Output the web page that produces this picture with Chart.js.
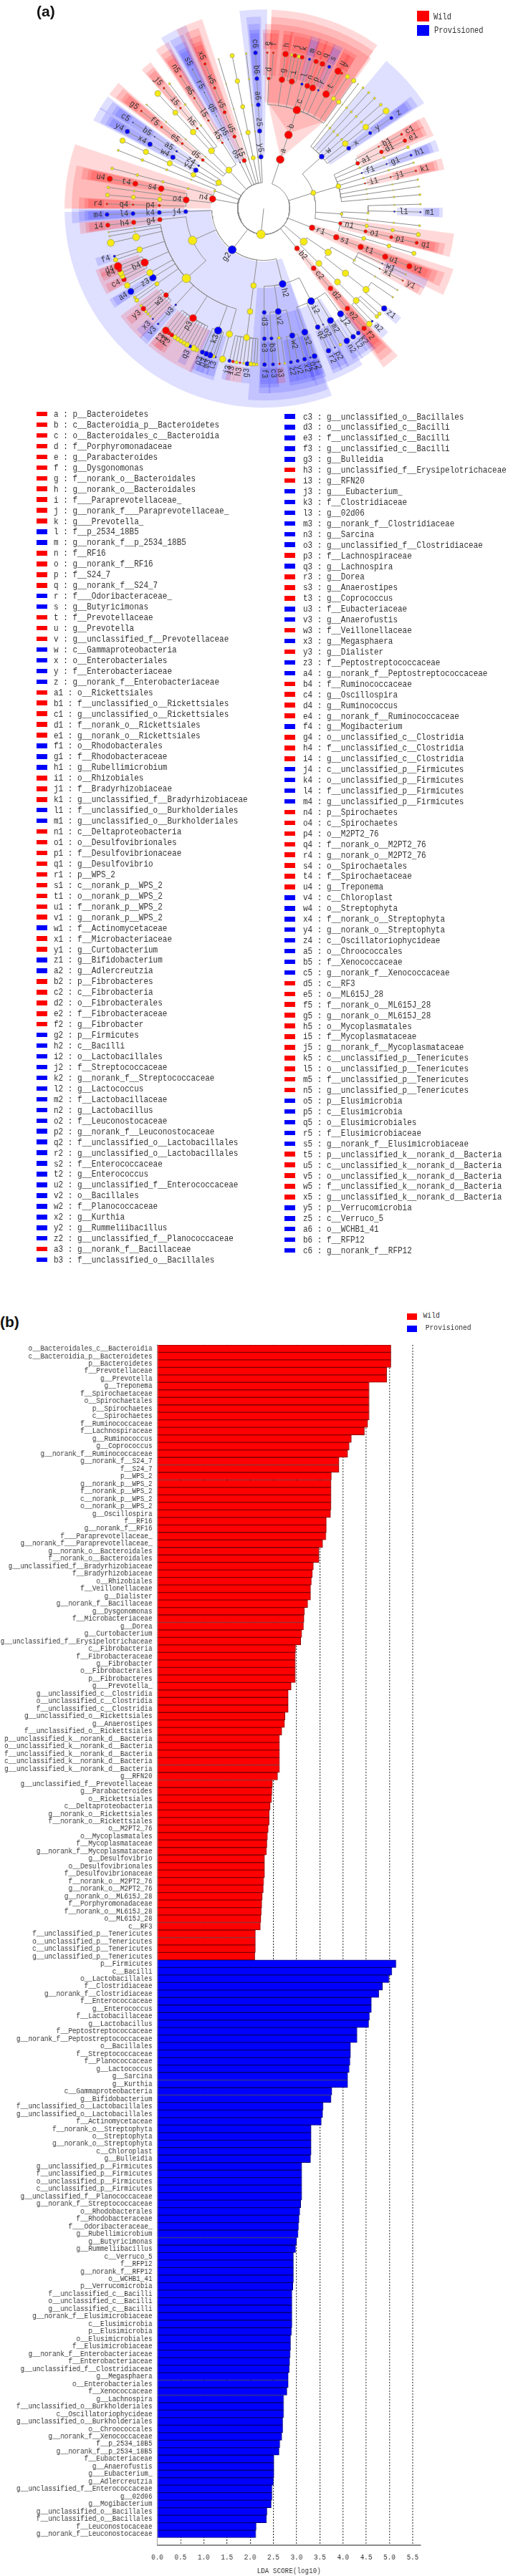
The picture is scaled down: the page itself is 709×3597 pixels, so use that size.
<!DOCTYPE html>
<html>
<head>
<meta charset="utf-8">
<title>LEfSe cladogram and LDA scores</title>
<script src="https://cdn.jsdelivr.net/npm/chart.js@4/dist/chart.umd.min.js"></script>
<style>
html, body { margin: 0; padding: 0; background: #fff; }
#page { position: relative; width: 709px; height: 3597px; overflow: hidden; font-family: "Liberation Mono", monospace; color: #333; }
#page canvas { position: absolute; left: 0; }
/* the bar labels in the figure are tall and narrow, so the bar canvas is drawn wider and squeezed */
#ldaBars { transform: scaleX(0.845); transform-origin: 0 0; }
.tag { position: absolute; font: bold 21px "Liberation Sans", sans-serif; color: #111; line-height: 24px; white-space: pre; }
.swatch { position: absolute; }
.txt { position: absolute; white-space: pre; transform: scaleY(1.18); transform-origin: left center; }
</style>
</head>
<body>
<div id="page">
  <canvas id="cladogram" width="709" height="575" style="top:0"></canvas>
  <canvas id="ldaBars" width="839" height="1734" style="top:1863px"></canvas>
</div>
<script>
// ---- data: the taxa list of panel (a), in legend order
var cladeKeys = ("a b c d e f g h i j k l m n o p q r s t u v w x y z " +
  "a1 b1 c1 d1 e1 f1 g1 h1 i1 j1 k1 l1 m1 n1 o1 p1 q1 r1 s1 t1 u1 v1 w1 x1 y1 z1 " +
  "a2 b2 c2 d2 e2 f2 g2 h2 i2 j2 k2 l2 m2 n2 o2 p2 q2 r2 s2 t2 u2 v2 w2 x2 y2 z2 " +
  "a3 b3 c3 d3 e3 f3 g3 h3 i3 j3 k3 l3 m3 n3 o3 p3 q3 r3 s3 t3 u3 v3 w3 x3 y3 z3 " +
  "a4 b4 c4 d4 e4 f4 g4 h4 i4 j4 k4 l4 m4 n4 o4 p4 q4 r4 s4 t4 u4 v4 w4 x4 y4 z4 " +
  "a5 b5 c5 d5 e5 f5 g5 h5 i5 j5 k5 l5 m5 n5 o5 p5 q5 r5 s5 t5 u5 v5 w5 x5 y5 z5 a6 b6 c6").split(" ");

var cladeNames = ["p__Bacteroidetes","c__Bacteroidia_p__Bacteroidetes","o__Bacteroidales_c__Bacteroidia","f__Porphyromonadaceae","g__Parabacteroides","g__Dysgonomonas","f__norank_o__Bacteroidales","g__norank_o__Bacteroidales","f___Paraprevotellaceae_","g__norank_f___Paraprevotellaceae_","g___Prevotella_","f__p_2534_18B5","g__norank_f__p_2534_18B5","f__RF16","g__norank_f__RF16","f__S24_7","g__norank_f__S24_7","f___Odoribacteraceae_","g__Butyricimonas","f__Prevotellaceae","g__Prevotella","g__unclassified_f__Prevotellaceae","c__Gammaproteobacteria","o__Enterobacteriales","f__Enterobacteriaceae","g__norank_f__Enterobacteriaceae",
"o__Rickettsiales","f__unclassified_o__Rickettsiales","g__unclassified_o__Rickettsiales","f__norank_o__Rickettsiales","g__norank_o__Rickettsiales","o__Rhodobacterales","f__Rhodobacteraceae","g__Rubellimicrobium","o__Rhizobiales","f__Bradyrhizobiaceae","g__unclassified_f__Bradyrhizobiaceae","f__unclassified_o__Burkholderiales","g__unclassified_o__Burkholderiales","c__Deltaproteobacteria","o__Desulfovibrionales","f__Desulfovibrionaceae","g__Desulfovibrio","p__WPS_2","c__norank_p__WPS_2","o__norank_p__WPS_2","f__norank_p__WPS_2","g__norank_p__WPS_2","f__Actinomycetaceae","f__Microbacteriaceae","g__Curtobacterium","g__Bifidobacterium",
"g__Adlercreutzia","p__Fibrobacteres","c__Fibrobacteria","o__Fibrobacterales","f__Fibrobacteraceae","g__Fibrobacter","p__Firmicutes","c__Bacilli","o__Lactobacillales","f__Streptococcaceae","g__norank_f__Streptococcaceae","g__Lactococcus","f__Lactobacillaceae","g__Lactobacillus","f__Leuconostocaceae","g__norank_f__Leuconostocaceae","f__unclassified_o__Lactobacillales","g__unclassified_o__Lactobacillales","f__Enterococcaceae","g__Enterococcus","g__unclassified_f__Enterococcaceae","o__Bacillales","f__Planococcaceae","g__Kurthia","g__Rummeliibacillus","g__unclassified_f__Planococcaceae",
"g__norank_f__Bacillaceae","f__unclassified_o__Bacillales","g__unclassified_o__Bacillales","o__unclassified_c__Bacilli","f__unclassified_c__Bacilli","g__unclassified_c__Bacilli","g__Bulleidia","g__unclassified_f__Erysipelotrichaceae","g__RFN20","g___Eubacterium_","f__Clostridiaceae","g__02d06","g__norank_f__Clostridiaceae","g__Sarcina","g__unclassified_f__Clostridiaceae","f__Lachnospiraceae","g__Lachnospira","g__Dorea","g__Anaerostipes","g__Coprococcus","f__Eubacteriaceae","g__Anaerofustis","f__Veillonellaceae","g__Megasphaera","g__Dialister","f__Peptostreptococcaceae",
"g__norank_f__Peptostreptococcaceae","f__Ruminococcaceae","g__Oscillospira","g__Ruminococcus","g__norank_f__Ruminococcaceae","g__Mogibacterium","o__unclassified_c__Clostridia","f__unclassified_c__Clostridia","g__unclassified_c__Clostridia","c__unclassified_p__Firmicutes","o__unclassified_p__Firmicutes","f__unclassified_p__Firmicutes","g__unclassified_p__Firmicutes","p__Spirochaetes","c__Spirochaetes","o__M2PT2_76","f__norank_o__M2PT2_76","g__norank_o__M2PT2_76","o__Spirochaetales","f__Spirochaetaceae","g__Treponema","c__Chloroplast","o__Streptophyta","f__norank_o__Streptophyta","g__norank_o__Streptophyta","c__Oscillatoriophycideae",
"o__Chroococcales","f__Xenococcaceae","g__norank_f__Xenococcaceae","c__RF3","o__ML615J_28","f__norank_o__ML615J_28","g__norank_o__ML615J_28","o__Mycoplasmatales","f__Mycoplasmataceae","g__norank_f__Mycoplasmataceae","c__unclassified_p__Tenericutes","o__unclassified_p__Tenericutes","f__unclassified_p__Tenericutes","g__unclassified_p__Tenericutes","p__Elusimicrobia","c__Elusimicrobia","o__Elusimicrobiales","f__Elusimicrobiaceae","g__norank_f__Elusimicrobiaceae","p__unclassified_k__norank_d__Bacteria","c__unclassified_k__norank_d__Bacteria","o__unclassified_k__norank_d__Bacteria","f__unclassified_k__norank_d__Bacteria","g__unclassified_k__norank_d__Bacteria","p__Verrucomicrobia","c__Verruco_5","o__WCHB1_41","f__RFP12","g__norank_f__RFP12"];

// everything not in here belongs to Wild
var provisionedKeys = ("l m r s w x y z f1 g1 h1 l1 m1 w1 z1 a2 g2 h2 i2 j2 k2 l2 m2 n2 o2 p2 q2 r2 s2 t2 u2 v2 w2 x2 y2 z2 b3 " +
  "c3 d3 e3 f3 g3 j3 k3 l3 m3 n3 o3 q3 u3 v3 x3 z3 a4 f4 j4 k4 l4 m4 v4 w4 x4 y4 z4 a5 b5 c5 o5 p5 q5 r5 s5 y5 z5 a6 b6 c6").split(" ");

// tree of panel (a): parent, angle in degrees clockwise from the top, first level, nodes along that branch (name:size)
// names with capitals or a dot are the yellow, non significant nodes
var treeRows = [
  ["", 186, 0, "ROOT:6"],
  ["ROOT", 18.5, 1, "a:5.5 b:5.5 c:5.5"],
  ["c", 2.2, 4, "d:2.2"], ["d", 1.3, 5, "e:1.5"], ["d", 3.5, 5, "f:1.5"],
  ["c", 8, 4, "g:4.2 h:4.2"],
  ["c", 12.4, 4, "i:4"], ["i", 10.3, 5, ".:2"], ["i", 11.5, 5, "j:3"], ["i", 13, 5, ".:2.5"], ["i", 14.2, 5, "k:3"],
  ["c", 17, 4, "l:2 m:2"], ["c", 19.5, 4, "n:3.8 o:3.4"], ["c", 22, 4, "p:4.5 q:3.8"], ["c", 24.7, 4, "r:1.5 s:2.5"],
  ["c", 28.5, 4, "t:5"], ["t", 28.3, 5, "u:4.8"], ["t", 29.8, 5, "v:2"],
  ["c", 32.3, 4, ".:3.2 .:3.2"], ["c", 35, 4, ".:3.2 .:3.2"],
  ["ROOT", 72.3, 1, "PROT:3.5"],
  ["PROT", 48, 2, "w:3.6"],
  ["w", 54.5, 3, "x:3 y:2.5 z:2.5"], ["w", 51.3, 3, ".:4 .:4 .:4.3"], ["w", 48.3, 3, ".:1.5 .:1.5 .:2"],
  ["w", 45, 3, ".:1.5 .:1.5 .:1.5"], ["w", 42, 3, ".:1.5 .:1.5 .:1.5"], ["w", 39.3, 3, ".:1.5 .:1.5 .:1.5"], ["w", 37, 3, ".:0.8 .:0.8 .:0.8"],
  ["PROT", 73.3, 2, "ALPH:3.5"],
  ["ALPH", 64.2, 3, "a1:2.8"], ["a1", 61.6, 4, "b1:1.2 c1:1.8"], ["a1", 64.2, 4, "d1:2.8 e1:2.8"],
  ["ALPH", 66.9, 3, ".:1.2 .:1.5 .:2"], ["ALPH", 70, 3, "f1:1.2 g1:1.2 h1:1.8"], ["ALPH", 72.9, 3, ".:1.2 .:1.2 .:1.2"],
  ["ALPH", 76, 3, "i1:1.2 j1:1.2 k1:1.5"], ["ALPH", 79.3, 3, ".:1 .:1 .:1.2"], ["ALPH", 81.9, 3, ".:0.8 .:0.8 .:1"], ["ALPH", 84.9, 3, ".:0.8 .:1.2 .:1.5"],
  ["PROT", 94, 2, "BETA:2"],
  ["BETA", 92.5, 3, "BORD:1.5"], ["BORD", 91.3, 4, "l1:1.2 m1:1.2"], ["BORD", 88.4, 4, ".:1 .:1.2"],
  ["BETA", 96.3, 3, ".:1.2 .:1.2 .:1.5"],
  ["PROT", 101, 2, "n1:2.5"],
  ["n1", 99.6, 3, ".:2.5 .:2.5 .:3"], ["n1", 102.7, 3, "o1:2.5 p1:2.5 q1:2.5"], ["n1", 106.7, 3, ".:2.8 .:2.8 .:3"],
  ["ROOT", 111.7, 1, "r1:4 s1:4 t1:4 u1:4 v1:4"],
  ["ROOT", 129.7, 1, "ACTI:5"],
  ["ACTI", 124.3, 2, "AC1:4.5"],
  ["AC1", 119.8, 3, "AO:1.5"], ["AO", 115, 4, "w1:1 .:1"], ["AO", 117.5, 4, "x1:1 y1:1.2"], ["AO", 121.5, 4, ".:1 .:1"],
  ["AC1", 128.5, 3, "BF:4.5 BG:4.5"], ["BG", 129.8, 5, "z1:4"], ["BG", 124.6, 5, ".:1.2"],
  ["ACTI", 135, 2, "CO1:4.2 CO2:4.2 CO3:4.2"],
  ["CO3", 137.7, 5, ".:4"], ["CO3", 136.2, 5, "a2:1.5"], ["CO3", 133.8, 5, ".:2.5"], ["CO3", 132.4, 5, ".:2.5"],
  ["ROOT", 140.2, 1, "b2:3.5 c2:3.5 d2:3.5 e2:3.5 f2:3.5"],
  ["ROOT", 217.3, 1, "g2:5.8"],
  ["g2", 166, 2, "h2:5"],
  ["h2", 153, 3, "i2:5"],
  ["i2", 144, 4, "j2:4.5"], ["j2", 142.9, 5, "k2:3"], ["j2", 145.2, 5, "l2:3.5"],
  ["i2", 149.3, 4, "m2:4.5"], ["m2", 148, 5, "n2:4.2"], ["m2", 150.7, 5, ".:2"],
  ["i2", 153, 4, "o2:1.2 p2:1.2"], ["i2", 155.6, 4, "q2:3.5 r2:3.5"],
  ["i2", 161.7, 4, "s2:4.5"], ["s2", 161.1, 5, "t2:3.8"], ["s2", 162.7, 5, "u2:1.5"],
  ["h2", 172, 3, "v2:4.4"],
  ["v2", 167.4, 4, "w2:4"], ["w2", 164.9, 5, "x2:3"], ["w2", 167.5, 5, "y2:2.5"], ["w2", 170, 5, "z2:2.5"],
  ["v2", 173.3, 4, "BACC:2"], ["BACC", 172.3, 5, ".:1.5"], ["BACC", 174.2, 5, "a3:1.5"],
  ["v2", 176.6, 4, "b3:2.5 c3:2.5"],
  ["h2", 179.7, 3, "d3:3 e3:3 f3:3"],
  ["g2", 187.5, 2, "ER1:4 ER2:4 ER3:4.3"],
  ["ER3", 192.6, 5, "j3:2.5"], ["ER3", 191.3, 5, "i3:2"], ["ER3", 190, 5, ".:2.3"], ["ER3", 188.7, 5, "h3:1.5"], ["ER3", 187.4, 5, ".:1.5"],
  ["ER3", 186, 5, "g3:3.2"], ["ER3", 184.7, 5, ".:3"], ["ER3", 183.5, 5, ".:2.5"], ["ER3", 182.5, 5, ".:2"],
  ["g2", 245.8, 2, "CLOS:6"],
  ["CLOS", 227.8, 3, "CORD:6"],
  ["CORD", 195.2, 4, ".:4.5 .:4.5"],
  ["CORD", 200.4, 4, "k3:5.3"], ["k3", 197.9, 5, "l3:1.5"], ["k3", 198.7, 5, ".:2.5"], ["k3", 200, 5, "m3:4.2"], ["k3", 201.5, 5, "n3:3.8"], ["k3", 203, 5, "o3:3.3"],
  ["CORD", 212.7, 4, "p3:5"],
  ["p3", 205.3, 5, ".:3.2"], ["p3", 206.6, 5, ".:4.2"], ["p3", 208, 5, "q3:2.5"], ["p3", 209.3, 5, ".:3.5"], ["p3", 210.6, 5, ".:3"], ["p3", 211.9, 5, ".:3"],
  ["p3", 213.2, 5, ".:3.2"], ["p3", 214.5, 5, ".:3.2"], ["p3", 215.9, 5, "r3:3"], ["p3", 217.2, 5, "s3:3"], ["p3", 218.6, 5, "t3:5"],
  ["CORD", 222.3, 4, "u3:1.5 v3:1.5"],
  ["CORD", 228.3, 4, "w3:3.5"],
  ["w3", 225, 5, "x3:1.3"], ["w3", 226.3, 5, ".:1.2"], ["w3", 227.5, 5, ".:1.8"], ["w3", 228.7, 5, ".:2"], ["w3", 230.1, 5, "y3:3.5"], ["w3", 231.5, 5, ".:1.8"],
  ["CORD", 234.7, 4, "PEP:3"], ["PEP", 234, 5, ".:3"], ["PEP", 235.3, 5, ".:2"],
  ["CORD", 237.9, 4, "z3:4.8 a4:4.5"],
  ["CORD", 240.5, 4, ".:4.5 .:4"],
  ["CORD", 245.5, 4, "b4:5.3"],
  ["b4", 243, 5, "c4:3.5"], ["b4", 244.3, 5, ".:3.5"], ["b4", 245.6, 5, ".:4"], ["b4", 247, 5, "e4:3.5"], ["b4", 248.3, 5, "d4:5.5"],
  ["CORD", 251.6, 4, "MOG:4"], ["MOG", 250.8, 5, ".:3.2"], ["MOG", 252.2, 5, "f4:1.8"],
  ["CORD", 257.3, 4, ".:5 .:5"], ["CORD", 259.8, 4, ".:1 .:1"], ["CORD", 261.3, 4, ".:1 .:1"],
  ["CLOS", 263.9, 3, "g4:3.2 h4:3.2 i4:3.2"],
  ["g2", 267.8, 2, "j4:3 k4:3 l4:3 m4:3"],
  ["ROOT", 280.7, 1, "n4:4.6"],
  ["n4", 276.4, 2, "o4:4.4"],
  ["o4", 271.7, 3, "p4:2 q4:1.5 r4:1.5"], ["o4", 275, 3, ".:3 .:3 .:2.8"], ["o4", 277.8, 3, ".:1.5 .:1.5 .:2"], ["o4", 281, 3, "s4:4.2 t4:3.8 u4:4"],
  ["ROOT", 290, 1, "THIN:1.5"], ["THIN", 284.9, 2, ".:1.5 .:1.8 .:2 .:2"], ["THIN", 291.9, 2, ".:1 .:1.5 .:2 .:1.5"],
  ["ROOT", 300, 1, "CY:4"],
  ["CY", 295.8, 2, ".:3.5 .:3.8 .:3.8 .:3.8"], ["CY", 299.6, 2, "v4:3.4 w4:3.4 x4:3.4 y4:3.4"], ["CY", 303.5, 2, "z4:1.5 a5:1.5 b5:1 c5:1"],
  ["ROOT", 318, 1, "TEN:4.2"],
  ["TEN", 308.7, 2, "d5:2.2 e5:1.8 f5:1.8 g5:1.5"], ["TEN", 311.7, 2, ".:1 .:1 .:1 .:1"],
  ["TEN", 318, 2, "MOL:4.2"], ["MOL", 317.5, 3, ".:4 .:3.6 .:4.2"], ["MOL", 320.5, 3, "h5:1.5 i5:1.5 j5:1.5"], ["MOL", 323.1, 3, ".:1.2 .:1.5 .:1.5"],
  ["TEN", 328, 2, "k5:1.5 l5:1.5 m5:1.5 n5:1.5"],
  ["ROOT", 333, 1, "o5:1 p5:0.8 q5:0.8 r5:0.8 s5:0.8"],
  ["ROOT", 338, 1, "t5:3 u5:2.5 v5:2.5 w5:2 x5:2"],
  ["ROOT", 343.3, 1, ".:0.8 .:0.8 .:0.8 .:0.8 .:0.8"],
  ["ROOT", 348.4, 1, ".:3 .:3.2 .:3 .:3.2 .:3"],
  ["ROOT", 353.6, 1, ".:1 .:1 .:1 .:1.2 .:1.2"],
  ["ROOT", 357, 1, "y5:3.2 z5:3.2 a6:3 b6:3 c6:3"]
];

// ---- data: panel (b)
var wildLabels = ["o__Bacteroidales_c__Bacteroidia","c__Bacteroidia_p__Bacteroidetes","p__Bacteroidetes","f__Prevotellaceae","g__Prevotella","g__Treponema","f__Spirochaetaceae","o__Spirochaetales","p__Spirochaetes","c__Spirochaetes","f__Ruminococcaceae","f__Lachnospiraceae","g__Ruminococcus","g__Coprococcus","g__norank_f__Ruminococcaceae","g__norank_f__S24_7","f__S24_7","p__WPS_2","g__norank_p__WPS_2","f__norank_p__WPS_2","c__norank_p__WPS_2","o__norank_p__WPS_2","g__Oscillospira","f__RF16","g__norank_f__RF16","f___Paraprevotellaceae_","g__norank_f___Paraprevotellaceae_","g__norank_o__Bacteroidales","f__norank_o__Bacteroidales","g__unclassified_f__Bradyrhizobiaceae","f__Bradyrhizobiaceae","o__Rhizobiales","f__Veillonellaceae","g__Dialister","g__norank_f__Bacillaceae","g__Dysgonomonas","f__Microbacteriaceae","g__Dorea","g__Curtobacterium","g__unclassified_f__Erysipelotrichaceae","c__Fibrobacteria","f__Fibrobacteraceae","g__Fibrobacter","o__Fibrobacterales","p__Fibrobacteres","g___Prevotella_","g__unclassified_c__Clostridia","o__unclassified_c__Clostridia","f__unclassified_c__Clostridia","g__unclassified_o__Rickettsiales","g__Anaerostipes","f__unclassified_o__Rickettsiales","p__unclassified_k__norank_d__Bacteria","o__unclassified_k__norank_d__Bacteria","f__unclassified_k__norank_d__Bacteria","c__unclassified_k__norank_d__Bacteria","g__unclassified_k__norank_d__Bacteria","g__RFN20","g__unclassified_f__Prevotellaceae","g__Parabacteroides","o__Rickettsiales","c__Deltaproteobacteria","g__norank_o__Rickettsiales","f__norank_o__Rickettsiales","o__M2PT2_76","o__Mycoplasmatales","f__Mycoplasmataceae","g__norank_f__Mycoplasmataceae","g__Desulfovibrio","o__Desulfovibrionales","f__Desulfovibrionaceae","f__norank_o__M2PT2_76","g__norank_o__M2PT2_76","g__norank_o__ML615J_28","f__Porphyromonadaceae","f__norank_o__ML615J_28","o__ML615J_28","c__RF3","f__unclassified_p__Tenericutes","o__unclassified_p__Tenericutes","c__unclassified_p__Tenericutes","g__unclassified_p__Tenericutes"];
var wildScores = [5.03,5.03,5.03,4.94,4.94,4.56,4.56,4.56,4.56,4.56,4.53,4.46,4.18,4.13,4.10,3.91,3.91,3.75,3.74,3.74,3.74,3.74,3.73,3.64,3.64,3.63,3.56,3.48,3.48,3.36,3.34,3.32,3.30,3.30,3.24,3.17,3.16,3.15,3.11,3.09,2.98,2.97,2.97,2.97,2.97,2.88,2.82,2.82,2.82,2.75,2.74,2.68,2.63,2.63,2.63,2.63,2.63,2.59,2.48,2.47,2.46,2.43,2.41,2.41,2.39,2.37,2.36,2.35,2.31,2.31,2.31,2.29,2.28,2.26,2.25,2.24,2.23,2.22,2.11,2.11,2.11,2.10];

var provLabels = ["p__Firmicutes","c__Bacilli","o__Lactobacillales","f__Clostridiaceae","g__norank_f__Clostridiaceae","f__Enterococcaceae","g__Enterococcus","f__Lactobacillaceae","g__Lactobacillus","f__Peptostreptococcaceae","g__norank_f__Peptostreptococcaceae","o__Bacillales","f__Streptococcaceae","f__Planococcaceae","g__Lactococcus","g__Sarcina","g__Kurthia","c__Gammaproteobacteria","g__Bifidobacterium","f__unclassified_o__Lactobacillales","g__unclassified_o__Lactobacillales","f__Actinomycetaceae","f__norank_o__Streptophyta","o__Streptophyta","g__norank_o__Streptophyta","c__Chloroplast","g__Bulleidia","g__unclassified_p__Firmicutes","f__unclassified_p__Firmicutes","o__unclassified_p__Firmicutes","c__unclassified_p__Firmicutes","g__unclassified_f__Planococcaceae","g__norank_f__Streptococcaceae","o__Rhodobacterales","f__Rhodobacteraceae","f___Odoribacteraceae_","g__Rubellimicrobium","g__Butyricimonas","g__Rummeliibacillus","c__Verruco_5","f__RFP12","g__norank_f__RFP12","o__WCHB1_41","p__Verrucomicrobia","f__unclassified_c__Bacilli","o__unclassified_c__Bacilli","g__unclassified_c__Bacilli","g__norank_f__Elusimicrobiaceae","c__Elusimicrobia","p__Elusimicrobia","o__Elusimicrobiales","f__Elusimicrobiaceae","g__norank_f__Enterobacteriaceae","f__Enterobacteriaceae","g__unclassified_f__Clostridiaceae","g__Megasphaera","o__Enterobacteriales","f__Xenococcaceae","g__Lachnospira","f__unclassified_o__Burkholderiales","c__Oscillatoriophycideae","g__unclassified_o__Burkholderiales","o__Chroococcales","g__norank_f__Xenococcaceae","f__p_2534_18B5","g__norank_f__p_2534_18B5","f__Eubacteriaceae","g__Anaerofustis","g___Eubacterium_","g__Adlercreutzia","g__unclassified_f__Enterococcaceae","g__02d06","g__Mogibacterium","g__unclassified_o__Bacillales","f__unclassified_o__Bacillales","f__Leuconostocaceae","g__norank_f__Leuconostocaceae"];
var provScores = [5.14,5.05,4.99,4.85,4.77,4.61,4.61,4.57,4.55,4.30,4.30,4.16,4.16,4.15,4.13,4.10,4.10,3.76,3.74,3.57,3.56,3.53,3.31,3.31,3.31,3.31,3.30,3.11,3.11,3.11,3.11,3.11,3.09,3.07,3.05,3.04,3.03,3.00,2.98,2.93,2.93,2.93,2.93,2.92,2.90,2.90,2.90,2.90,2.90,2.89,2.87,2.87,2.86,2.85,2.84,2.82,2.82,2.79,2.72,2.72,2.72,2.70,2.70,2.68,2.64,2.62,2.51,2.51,2.51,2.50,2.47,2.47,2.45,2.36,2.35,2.13,2.12];

// ---- look of the tree
var RED = "#ff0000", BLUE = "#0000ff", YELLOW = "#f5ea14";
var levelRadius = [37, 74, 111, 148.5, 186, 223];
var shadeOuter = [0, 278, 268, 258, 250, 245];
var shadePad = [0, 4, 2.2, 1.8, 1.6, 1.4];
// wide clades whose shaded span does not follow their branches exactly
var shadeSpans = {
  a: [2.3, 34.8], b: [2.3, 34.8], c: [0.5, 35.5], w: [39.7, 56.7], a1: [60.2, 66.8], n1: [97.5, 104.6],
  g2: [160, 269], h2: [160.5, 184.7], i2: [147.7, 163.5], n4: [270, 288.8], o4: [270, 283], b2: [137.7, 143]
};
var fanClades = { a: 1, b: 1 };

var nodes = {}, nodeList = [], seq = 0;

function buildTree() {
  treeRows.forEach(function (row) {
    var parent = row[0], level = row[2];
    row[3].split(" ").forEach(function (tok) {
      var bits = tok.split(":"), id = bits[0] === "." ? "." + (seq++) : bits[0];
      var n = { id: id, parent: parent, level: level, angle: row[1], size: +bits[1], kids: [], key: cladeKeys.indexOf(bits[0]) >= 0 };
      nodes[id] = n;
      nodeList.push(n);
      if (parent) nodes[parent].kids.push(n);
      parent = id;
      level++;
    });
  });
}

function spanOf(n) {
  var lo = n.angle, hi = n.angle;
  n.kids.forEach(function (k) {
    var s = spanOf(k);
    lo = Math.min(lo, s[0]);
    hi = Math.max(hi, s[1]);
  });
  return [lo, hi];
}

function polar(angle, r) {
  var t = angle * Math.PI / 180;
  return { x: r * Math.sin(t), y: r * Math.cos(t) };
}

function branchPoints() {
  var pts = [];
  nodeList.forEach(function (n) {
    if (!n.parent) {
      pts.push(polar(n.angle, 0), polar(n.angle, levelRadius[n.level]), { x: null, y: null });
      return;
    }
    var p = nodes[n.parent], rp = levelRadius[p.level];
    pts.push(polar(n.angle, levelRadius[n.level]), polar(n.angle, rp));
    var steps = Math.ceil(Math.abs(p.angle - n.angle) / 3);
    for (var i = 1; i <= steps; i++) pts.push(polar(n.angle + (p.angle - n.angle) * i / steps, rp));
    pts.push({ x: null, y: null });
  });
  return pts;
}

function nodeColor(n) {
  if (!n.key) return YELLOW;
  return provisionedKeys.indexOf(n.id) >= 0 ? BLUE : RED;
}

var shadePlugin = {
  id: "shades",
  beforeDatasetsDraw: function (chart) {
    var c = chart.ctx, sx = chart.scales.x, sy = chart.scales.y;
    var cx = sx.getPixelForValue(0), cy = sy.getPixelForValue(0);
    nodeList.forEach(function (n) {
      if (!n.key) return;
      var s = spanOf(n), pad = shadePad[n.level];
      var lo = s[0] - pad, hi = s[1] + pad;
      if (shadeSpans[n.id]) { lo = shadeSpans[n.id][0]; hi = shadeSpans[n.id][1]; }
      var r0 = levelRadius[n.level], r1 = shadeOuter[n.level];
      var a0 = (lo - 90) * Math.PI / 180, a1 = (hi - 90) * Math.PI / 180;
      c.save();
      c.beginPath();
      if (fanClades[n.id]) {
        var inner = (n.angle - 90) * Math.PI / 180, rf = levelRadius[3];
        c.moveTo(cx + r0 * Math.cos(inner), cy + r0 * Math.sin(inner));
        c.lineTo(cx + rf * Math.cos(a0), cy + rf * Math.sin(a0));
        c.arc(cx, cy, r1, a0, a1);
        c.lineTo(cx + rf * Math.cos(a1), cy + rf * Math.sin(a1));
      } else {
        c.arc(cx, cy, r1, a0, a1);
        c.arc(cx, cy, r0, a1, a0, true);
      }
      c.closePath();
      c.fillStyle = provisionedKeys.indexOf(n.id) >= 0 ? "rgba(0,0,255,0.125)" : "rgba(255,0,0,0.15)";
      c.fill();
      c.restore();
    });
  }
};

var labelPlugin = {
  id: "cladeLabels",
  afterDatasetsDraw: function (chart) {
    var c = chart.ctx, sx = chart.scales.x, sy = chart.scales.y;
    c.save();
    c.font = '10.5px "Liberation Mono", monospace';
    c.fillStyle = "#333";
    c.textAlign = "center";
    c.textBaseline = "middle";
    nodeList.forEach(function (n) {
      if (!n.key) return;
      var p = polar(n.angle, levelRadius[n.level] + 13);
      var deg = n.angle < 180 ? n.angle - 90 : n.angle - 270;
      c.save();
      c.translate(sx.getPixelForValue(p.x), sy.getPixelForValue(p.y));
      c.rotate(deg * Math.PI / 180);
      c.scale(1, 1.15);
      c.fillText(n.id, 0, 0);
      c.restore();
    });
    c.restore();
  }
};

function renderCladogram(divId) {
  var ctx = document.getElementById(divId).getContext("2d");
  new Chart(ctx, {
    type: "scatter",
    data: {
      datasets: [{
        label: "nodes",
        data: nodeList.map(function (n) { return polar(n.angle, levelRadius[n.level]); }),
        pointRadius: nodeList.map(function (n) { return n.size; }),
        pointBackgroundColor: nodeList.map(nodeColor),
        pointBorderColor: "#8d8d6a",
        pointBorderWidth: 0.6,
        order: 0
      }, {
        label: "branches",
        data: branchPoints(),
        showLine: true,
        spanGaps: false,
        pointRadius: 0,
        borderColor: "#8e8e8e",
        borderWidth: 1,
        order: 1
      }]
    },
    options: {
      responsive: false,
      animation: false,
      events: [],
      plugins: { legend: { display: false }, tooltip: { enabled: false } },
      scales: {
        x: { type: "linear", display: false, min: -368.3, max: 340.7 },
        y: { type: "linear", display: false, min: -283.7, max: 291.3 }
      }
    },
    plugins: [shadePlugin, labelPlugin]
  });
}

function renderLdaBars(divId) {
  var ctx = document.getElementById(divId).getContext("2d");
  var labels = wildLabels.concat(provLabels);
  var fills = wildScores.map(function () { return RED; }).concat(provScores.map(function () { return BLUE; }));
  var edges = wildScores.map(function () { return "#7d0000"; }).concat(provScores.map(function () { return "#000070"; }));
  new Chart(ctx, {
    type: "bar",
    data: {
      labels: labels.concat([""]), // empty last row leaves the gap above the axis
      datasets: [{
        label: "LDA score",
        data: wildScores.concat(provScores),
        backgroundColor: fills,
        borderColor: edges,
        borderWidth: 1,
        barPercentage: 1,
        categoryPercentage: 1
      }]
    },
    options: {
      indexAxis: "y",
      responsive: false,
      animation: false,
      events: [],
      layout: { padding: { top: 2, right: 144.4, bottom: 0, left: 0 } },
      plugins: { legend: { display: false }, tooltip: { enabled: false } },
      scales: {
        x: {
          type: "linear", min: 0, max: 5.67,
          afterFit: function (s) { s.height = 43; },
          grid: { color: "#222", lineWidth: 1.2, drawTicks: false },
          border: { color: "#8c8c8c", width: 2, dash: [2, 2] },
          ticks: {
            stepSize: 0.5, includeBounds: false, padding: 10, color: "#333", maxRotation: 0,
            font: { family: '"Liberation Mono", monospace', size: 11 },
            callback: function (v) { return v.toFixed(1); }
          },
          title: {
            display: true, text: "LDA SCORE(log10)", color: "#333", padding: 0,
            font: { family: '"Liberation Mono", monospace', size: 11 }
          }
        },
        y: {
          type: "category",
          afterFit: function (s) { s.width = 259.8; },
          grid: { display: false, drawTicks: false },
          border: { color: "#999", width: 1 },
          ticks: {
            autoSkip: false, padding: 8.3, color: "#333",
            font: { family: '"Liberation Mono", monospace', size: 11 }
          }
        }
      }
    }
  });
}

function addBox(left, top, w, h, color) {
  var d = document.createElement("div");
  d.className = "swatch";
  d.style.cssText = "left:" + left + "px;top:" + top + "px;width:" + w + "px;height:" + h + "px;background:" + color;
  document.getElementById("page").appendChild(d);
}

function addText(text, left, mid, size) {
  var d = document.createElement("div");
  d.className = "txt";
  d.textContent = text;
  d.style.cssText = "left:" + left + "px;top:" + (mid - 8) + "px;line-height:16px;font-size:" + size + "px";
  document.getElementById("page").appendChild(d);
}

function addTag(text, left, mid) {
  var d = document.createElement("div");
  d.className = "tag";
  d.textContent = text;
  d.style.cssText = "left:" + left + "px;top:" + (mid - 12) + "px";
  document.getElementById("page").appendChild(d);
}

function renderKeyLists() {
  cladeKeys.forEach(function (k, i) {
    var first = i < 80;
    var row = first ? i : i - 80;
    var mid = first ? 578 + row * 14.95 : 581.5 + row * 14.93;
    var left = first ? 51 : 397;
    addBox(left, mid - 3.2, 15, 6.5, provisionedKeys.indexOf(k) >= 0 ? BLUE : RED);
    addText(k + " : " + cladeNames[i], left + (first ? 24 : 26), mid, 11);
  });
}

function renderFrames() {
  addTag("(a)", 51, 16);
  addBox(581.5, 14.6, 17.6, 15, RED);
  addBox(581.5, 34.8, 17.6, 15, BLUE);
  addText("Wild", 605, 23, 10.4);
  addText("Provisioned", 606, 42.3, 10.4);
  addTag("(b)", 0, 1846);
  addBox(568, 1834, 14, 9.4, RED);
  addBox(568, 1851, 14, 9.4, BLUE);
  addText("Wild", 590.5, 1838, 9.7);
  addText("Provisioned", 593.7, 1855, 9.7);
}

buildTree();
renderCladogram("cladogram");
renderLdaBars("ldaBars");
renderKeyLists();
renderFrames();
</script>
</body>
</html>
